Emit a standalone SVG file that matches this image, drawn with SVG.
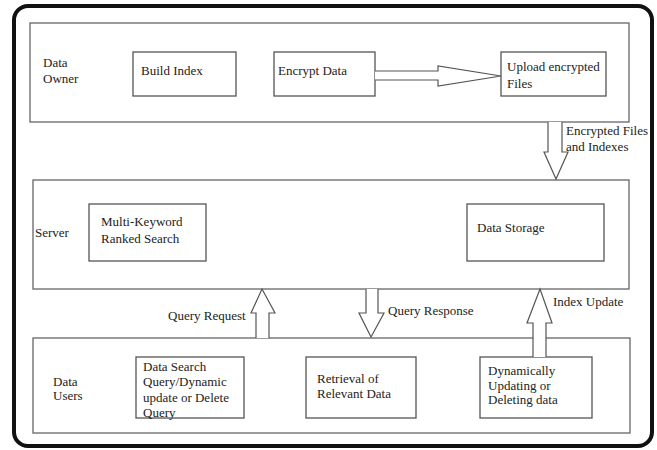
<svg xmlns="http://www.w3.org/2000/svg" width="657" height="450" viewBox="0 0 657 450" font-family="'Liberation Serif', 'DejaVu Serif', serif">
  <style>
    text { font-family: "Liberation Serif", "DejaVu Serif", "Noto Serif", serif; font-size: 13px; fill: #222; }
    .panel { fill: #fff; stroke: #666; stroke-width: 1.3; }
    .box { fill: #fff; stroke: #555; stroke-width: 1.3; }
    .flow { fill: #fff; stroke: #555; stroke-width: 1.2; stroke-linejoin: miter; }
  </style>
  <rect x="0" y="0" width="657" height="450" fill="#fff"/>
  <!-- outer frame -->
  <rect x="14" y="6" width="638" height="440" rx="14" ry="14" fill="#fff" stroke="#111" stroke-width="4"/>

  <!-- Data Owner tier -->
  <g id="data-owner">
    <rect class="panel" x="30" y="23" width="599" height="99"/>
    <text x="43" y="67">Data</text>
    <text x="43" y="83">Owner</text>
  </g>
  <g id="build-index">
    <rect class="box" x="133" y="52" width="103" height="44"/>
    <text x="141" y="75">Build Index</text>
  </g>
  <g id="encrypt-data">
    <rect class="box" x="274" y="52" width="101" height="44"/>
    <text x="278" y="75">Encrypt Data</text>
  </g>
  <g id="upload-files">
    <rect class="box" x="501" y="52" width="105" height="44"/>
    <text x="507" y="71">Upload encrypted</text>
    <text x="507" y="88">Files</text>
  </g>

  <!-- Server tier -->
  <g id="server">
    <rect class="panel" x="33" y="180" width="596" height="109"/>
    <text x="35" y="237">Server</text>
  </g>
  <g id="ranked-search">
    <rect class="box" x="89" y="204" width="117" height="57"/>
    <text x="101" y="226">Multi-Keyword</text>
    <text x="101" y="243">Ranked Search</text>
  </g>
  <g id="data-storage">
    <rect class="box" x="467" y="204" width="137" height="57"/>
    <text x="477" y="232">Data Storage</text>
  </g>

  <!-- Data Users tier -->
  <g id="data-users">
    <rect class="panel" x="33" y="338" width="597" height="95"/>
    <text x="53" y="386">Data</text>
    <text x="53" y="400">Users</text>
  </g>
  <g id="search-query">
    <rect class="box" x="136" y="357" width="108" height="61"/>
    <text x="143" y="371">Data Search</text>
    <text x="143" y="386">Query/Dynamic</text>
    <text x="143" y="402">update or Delete</text>
    <text x="143" y="417">Query</text>
  </g>
  <g id="retrieval">
    <rect class="box" x="306" y="357" width="110" height="61"/>
    <text x="317" y="383">Retrieval of</text>
    <text x="317" y="398">Relevant Data</text>
  </g>
  <g id="dynamic-update">
    <rect class="box" x="480" y="357" width="112" height="61"/>
    <text x="488" y="375">Dynamically</text>
    <text x="488" y="390">Updating or</text>
    <text x="488" y="404">Deleting data</text>
  </g>

  <!-- block arrows between components -->
  <g id="connectors">
    <!-- Encrypt Data -> Upload encrypted Files -->
    <path class="flow" d="M375,71 H438 V66 L501,76 L438,86 V80 H375"/>
    <!-- Data Owner -> Server : encrypted files and indexes -->
    <path class="flow" d="M548,122 V152 H544 L556,179 L568,152 H562 V122"/>
    <text x="566" y="135">Encrypted Files</text>
    <text x="566" y="151">and Indexes</text>
    <!-- Data Users -> Server : query request -->
    <path class="flow" d="M256,338 V313 H251 L262,289 L275,313 H269 V338"/>
    <text x="168" y="320">Query Request</text>
    <!-- Server -> Data Users : query response -->
    <path class="flow" d="M366,289 V313 H359 L371,337 L384,313 H378 V289"/>
    <text x="388" y="315">Query Response</text>
    <!-- Dynamic update -> Server : index update -->
    <path class="flow" d="M533,357 V323 H527 L540,289 L552,323 H546 V357"/>
    <text x="553" y="306">Index Update</text>
  </g>
</svg>
